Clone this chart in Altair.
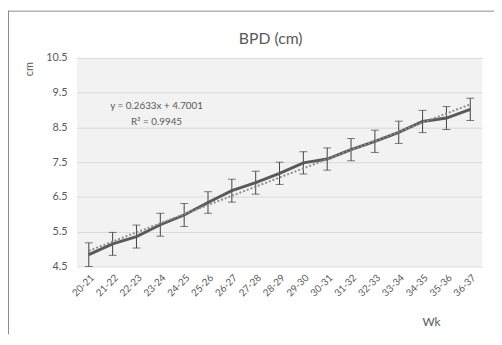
import altair as alt
import pandas as pd

weeks = ["20-21", "21-22", "22-23", "23-24", "24-25", "25-26", "26-27", "27-28", "28-29",
         "29-30", "30-31", "31-32", "32-33", "33-34", "34-35", "35-36", "36-37"]
bpd_mean = [4.84, 5.15, 5.36, 5.70, 5.98, 6.34, 6.68, 6.91, 7.18,
            7.48, 7.59, 7.86, 8.10, 8.36, 8.67, 8.77, 9.02]
bpd_sd = [0.34, 0.33, 0.33, 0.33, 0.33, 0.31, 0.33, 0.33, 0.32,
          0.32, 0.32, 0.32, 0.32, 0.32, 0.32, 0.33, 0.32]
y_ticks = [4.5, 5.5, 6.5, 7.5, 8.5, 9.5, 10.5]
title_text = "BPD (cm)"
eq_lines = ["y = 0.2633x + 4.7001", "R² = 0.9945"]

df = pd.DataFrame({
    "i": list(range(1, len(weeks) + 1)),
    "wk": weeks,
    "bpd": bpd_mean,
    "sd": bpd_sd,
})

FONT = "Lato"
GREY_TXT = "#595959"

label_expr = "[" + ",".join("'%s'" % w for w in weeks) + "][datum.value - 1]"

x_enc = alt.X(
    "i:Q",
    scale=alt.Scale(domain=[0.5, len(weeks) + 0.5], nice=False, zero=False),
    axis=alt.Axis(
        values=list(range(1, len(weeks) + 1)),
        labelExpr=label_expr,
        labelAngle=-45,
        labelAlign="right",
        labelBaseline="top",
        labelPadding=6,
        labelFontSize=10,
        labelColor=GREY_TXT,
        labelFont=FONT,
        labelOverlap=False,
        labelBound=False,
        grid=False,
        domain=False,
        ticks=False,
        title="Wk",
        titleFont=FONT,
        titleFontSize=12,
        titleFontWeight="normal",
        titleColor=GREY_TXT,
        titleX=360,
        titleY=56,
        titleAlign="center",
        titleBaseline="middle",
    ),
)

y_scale = alt.Scale(domain=[4.5, 10.5], nice=False, zero=False)
y_axis = alt.Axis(
    values=y_ticks,
    format=".1f",
    labelFontSize=11,
    labelColor=GREY_TXT,
    labelFont=FONT,
    labelPadding=10,
    grid=True,
    gridColor="#d9d9d9",
    gridWidth=1,
    domain=False,
    ticks=False,
    title="cm",
    titleFont=FONT,
    titleFontSize=11,
    titleFontWeight="normal",
    titleColor=GREY_TXT,
    titleAngle=270,
    titleX=-48,
    titleY=11,
    titleAlign="center",
    titleBaseline="middle",
)

base = alt.Chart(df).transform_calculate(
    lo="datum.bpd - datum.sd", hi="datum.bpd + datum.sd"
)

err_rule = base.mark_rule(color="#404040", strokeWidth=1).encode(
    x=x_enc,
    y=alt.Y("lo:Q", scale=y_scale, axis=y_axis),
    y2="hi:Q",
)

err_cap_lo = base.mark_tick(color="#404040", thickness=1, size=8, orient="horizontal").encode(
    x=x_enc, y=alt.Y("lo:Q", scale=y_scale, axis=y_axis)
)
err_cap_hi = base.mark_tick(color="#404040", thickness=1, size=8, orient="horizontal").encode(
    x=x_enc, y=alt.Y("hi:Q", scale=y_scale, axis=y_axis)
)

line = base.mark_line(color="#595959", strokeWidth=3).encode(
    x=x_enc, y=alt.Y("bpd:Q", scale=y_scale, axis=y_axis)
)

trend = alt.Chart(df).transform_regression("i", "bpd", extent=[1, len(weeks)]).mark_line(
    color="#8c8c8c", strokeWidth=2, strokeDash=[2, 2]
).encode(x=x_enc, y=alt.Y("bpd:Q", scale=y_scale, axis=y_axis))

one = pd.DataFrame({"t": [title_text]})

title_mark = alt.Chart(one).mark_text(
    font=FONT, fontSize=16, color=GREY_TXT, align="center", baseline="middle"
).encode(text="t:N", x=alt.value(197), y=alt.value(-19))

eq1 = alt.Chart(pd.DataFrame({"t": [eq_lines[0]]})).mark_text(
    font=FONT, fontSize=10, color=GREY_TXT, align="center", baseline="middle"
).encode(text="t:N", x=alt.value(81), y=alt.value(49))
eq2 = alt.Chart(pd.DataFrame({"t": [eq_lines[1]]})).mark_text(
    font=FONT, fontSize=10, color=GREY_TXT, align="center", baseline="middle"
).encode(text="t:N", x=alt.value(81), y=alt.value(65))

border_top = alt.Chart(one).mark_rule(color="#8a8a8a", strokeWidth=1).encode(
    x=alt.value(-70), x2=alt.value(424), y=alt.value(-47.5)
)
border_left = alt.Chart(one).mark_rule(color="#8a8a8a", strokeWidth=1).encode(
    x=alt.value(-69.5), y=alt.value(-48), y2=alt.value(281)
)

chart = alt.layer(
    err_rule, err_cap_lo, err_cap_hi, line, trend, eq1, eq2, title_mark, border_top, border_left
).properties(
    width=412,
    height=212,
    padding={"left": 70, "top": 48, "right": 12, "bottom": 69},
    autosize=alt.AutoSizeParams(type="none"),
    background="white",
).configure_view(fill="#f2f2f2", stroke="transparent", strokeWidth=0)

chart.save("out.html", embed_options={"renderer": "svg", "actions": False})
